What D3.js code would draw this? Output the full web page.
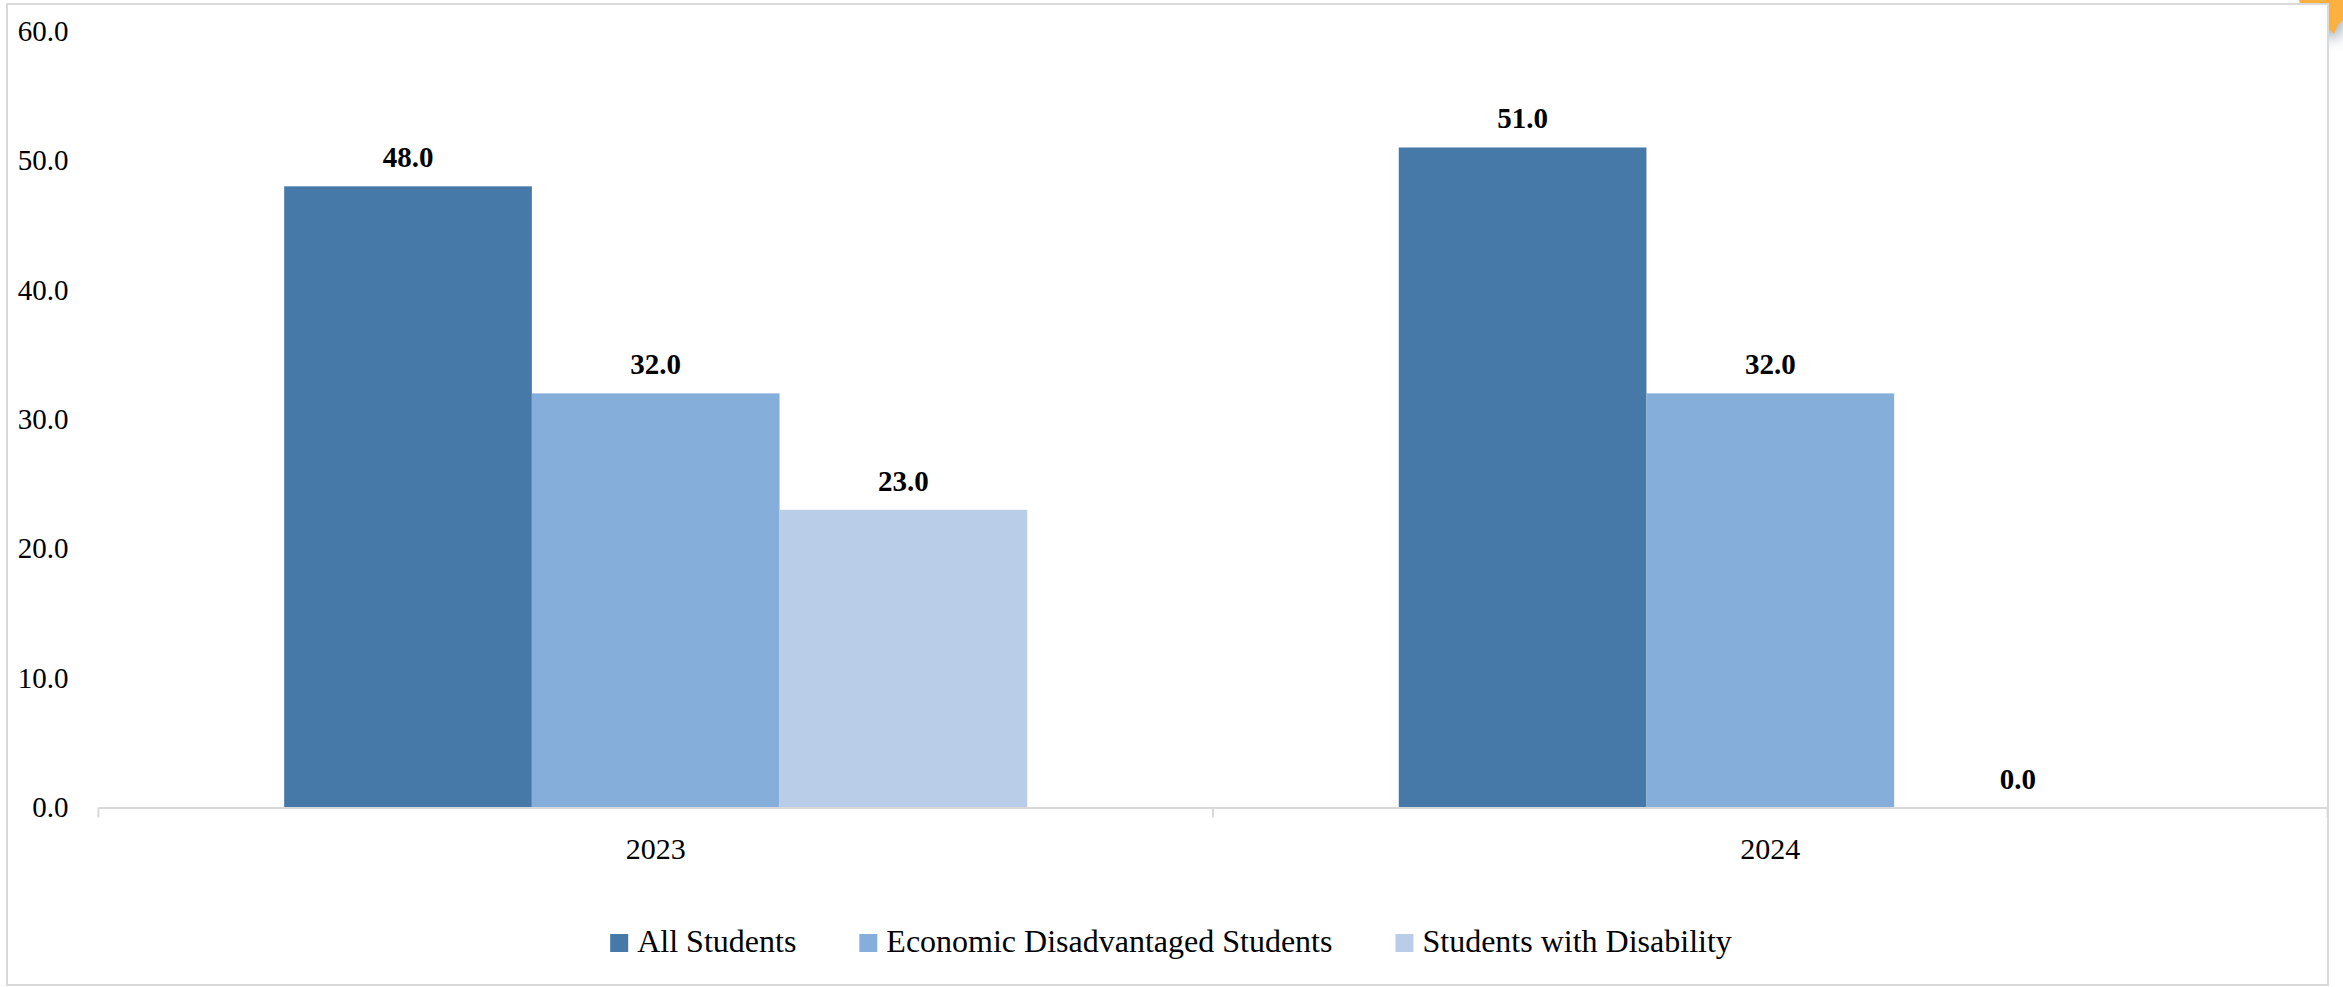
<!DOCTYPE html>
<html>
<head>
<meta charset="utf-8">
<script src="https://cdn.jsdelivr.net/npm/d3@7"></script>
<style>
  body { margin: 0; background: #fff; }
  svg text { font-family: 'Liberation Serif', 'Times New Roman', serif; fill: #000; }
</style>
</head>
<body>
<script>
const categories = ['2023', '2024']
const seriesNames = ['All Students', 'Economic Disadvantaged Students', 'Students with Disability']
const allStudents = [48, 51]
const econDisadvantaged = [32, 32]
const withDisability = [23, 0]
const yTicks = [0, 10, 20, 30, 40, 50, 60]
const colors = ['#4779a8', '#85aedb', '#b9cde8']

const series = [allStudents, econDisadvantaged, withDisability]

const draw = () => {
  const w = 2343
  const h = 987

  const left = 98.4
  const right = 2327.6
  const baseY = 807.5
  const topY = 31

  const svg = d3.select('body').append('svg').attr('width', w).attr('height', h)

  // little orange sticker poking in at the top right corner
  const defs = svg.append('defs')
  defs.append('filter').attr('id', 'shadow')
    .attr('x', '-50%').attr('y', '-50%').attr('width', '200%').attr('height', '200%')
    .append('feDropShadow')
    .attr('dx', 2).attr('dy', 6).attr('stdDeviation', 8)
    .attr('flood-color', '#5a7080').attr('flood-opacity', 0.6)
  svg.append('path')
    .attr('d', 'M2299,0 L2343,0 L2343,20 L2338,25 L2334,34 L2327,27 L2319,31 L2312,24 L2304,18 Z')
    .attr('fill', '#fbb040')
    .attr('filter', 'url(#shadow)')

  // chart frame
  svg.append('rect')
    .attr('x', 7).attr('y', 4)
    .attr('width', 2321).attr('height', 981)
    .attr('fill', '#fff')
    .attr('stroke', '#d9d9d9')
    .attr('stroke-width', 2)

  const yScale = d3.scaleLinear().domain([0, 60]).range([baseY, topY])

  const x0 = d3.scaleBand().domain(categories).range([left, right]).padding(0)
  const bw = x0.bandwidth()
  const x1 = d3.scaleBand().domain(d3.range(series.length)).range([bw / 6, bw * 5 / 6]).padding(0)

  // y axis labels only
  const yAxis = d3.axisLeft(yScale).tickValues(yTicks).tickSize(0).tickPadding(30).tickFormat(d3.format('.1f'))
  const yg = svg.append('g').attr('transform', `translate(${left},0)`).call(yAxis)
  yg.attr('font-family', null).attr('font-size', null)
  yg.select('.domain').remove()
  yg.selectAll('text').style('font-size', '29px')

  // bars
  const groups = svg.selectAll('g.cat')
    .data(categories)
    .enter()
    .append('g')
    .attr('class', 'cat')
    .attr('transform', (d) => `translate(${x0(d)},0)`)

  groups.selectAll('rect')
    .data((d, i) => series.map((s, j) => ({ j, v: s[i] })))
    .enter()
    .append('rect')
    .attr('x', (d) => x1(d.j))
    .attr('y', (d) => yScale(d.v))
    .attr('width', x1.bandwidth())
    .attr('height', (d) => baseY - yScale(d.v))
    .attr('fill', (d) => colors[d.j])

  groups.selectAll('text.lbl')
    .data((d, i) => series.map((s, j) => ({ j, v: s[i] })))
    .enter()
    .append('text')
    .attr('class', 'lbl')
    .attr('x', (d) => x1(d.j) + x1.bandwidth() / 2)
    .attr('y', (d) => yScale(d.v) - 19)
    .attr('text-anchor', 'middle')
    .style('font-size', '29px')
    .style('font-weight', 'bold')
    .text((d) => d3.format('.1f')(d.v))

  // x axis
  const xAxis = d3.axisBottom(x0).tickSize(0).tickPadding(30).tickSizeOuter(0)
  const xg = svg.append('g').attr('transform', `translate(0,${baseY})`).call(xAxis)
  xg.attr('font-family', null).attr('font-size', null)
  xg.select('.domain').attr('stroke', '#d9d9d9').attr('stroke-width', 2)
  xg.selectAll('text').style('font-size', '30px')

  const boundaries = categories.map((c) => x0(c)).concat([right])
  xg.selectAll('line.sep')
    .data(boundaries)
    .enter()
    .append('line')
    .attr('class', 'sep')
    .attr('x1', (d) => d).attr('x2', (d) => d)
    .attr('y1', 0).attr('y2', 10)
    .attr('stroke', '#d9d9d9')
    .attr('stroke-width', 2)

  // legend
  const legend = svg.append('g')
  const items = legend.selectAll('g')
    .data(seriesNames)
    .enter()
    .append('g')
  items.append('rect')
    .attr('width', 18).attr('height', 18)
    .attr('y', 934)
    .attr('fill', (d, i) => colors[i])
  items.append('text')
    .attr('x', 27)
    .attr('y', 952)
    .style('font-size', '32px')
    .text((d) => d)

  let pos = 0
  const offsets = []
  items.each(function () {
    offsets.push(pos)
    const tw = d3.select(this).select('text').node().getComputedTextLength()
    pos += 27 + tw + 63
  })
  const total = pos - 63
  const startX = 1171 - total / 2
  items.attr('transform', (d, i) => `translate(${startX + offsets[i]},0)`)
}

draw()
</script>
</body>
</html>
